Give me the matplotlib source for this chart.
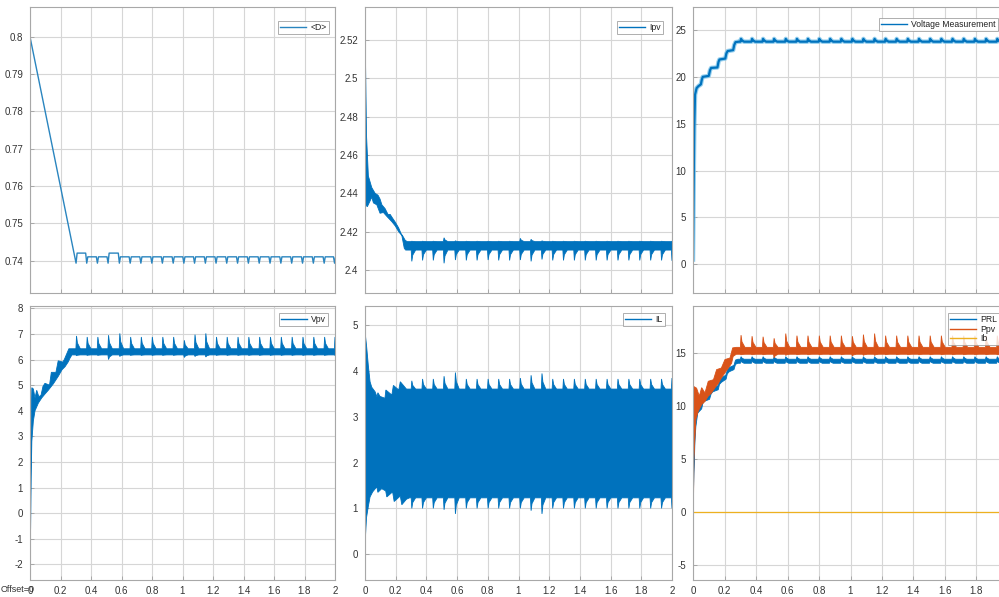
import numpy as np
import matplotlib
matplotlib.use("Agg")
import matplotlib.pyplot as plt
from matplotlib.ticker import FuncFormatter

plt.rcParams['font.family'] = ['Liberation Sans', 'DejaVu Sans']

# ---------------- data ----------------
# MPPT update instants (s) where spikes / dips appear
EVENTS = [0.302, 0.372, 0.442, 0.512, 0.586, 0.657, 0.727, 0.799, 0.868, 0.939,
          1.009, 1.079, 1.150, 1.220, 1.290, 1.361, 1.432, 1.503, 1.574, 1.645,
          1.716, 1.787, 1.858, 1.929, 1.997]

# <D> duty cycle
D_ramp_t = [0.0, 0.302]
D_ramp_v = [0.8, 0.7393]
D_dip = 0.7393
D_levels = [0.742, 0.741, 0.741, 0.742, 0.741, 0.741, 0.741, 0.741, 0.741, 0.741,
            0.741, 0.741, 0.741, 0.741, 0.741, 0.741, 0.741, 0.741, 0.741, 0.741,
            0.741, 0.741, 0.741, 0.741, 0.741]

# Ipv envelope
Ipv_up_t = [0.0, 0.004, 0.010, 0.022, 0.044, 0.066, 0.085, 0.098, 0.110, 0.131, 0.150,
            0.164, 0.180, 0.197, 0.219, 0.235, 0.247, 0.262, 0.275]
Ipv_up_v = [2.527, 2.505, 2.470, 2.449, 2.443, 2.440, 2.439, 2.437, 2.434, 2.432, 2.429,
            2.429, 2.427, 2.425, 2.422, 2.419, 2.4176, 2.4155, 2.4148]
Ipv_lo_t = [0.0, 0.005, 0.015, 0.033, 0.044, 0.055, 0.077, 0.098, 0.120, 0.142, 0.175,
            0.197, 0.219, 0.240, 0.256, 0.265]
Ipv_lo_v = [2.510, 2.434, 2.433, 2.436, 2.438, 2.435, 2.434, 2.4296, 2.430, 2.428, 2.4252,
            2.423, 2.420, 2.418, 2.4113, 2.4104]
Ipv_up_base, Ipv_lo_base = 2.4148, 2.4104
Ipv_up_pk = [2.4150, 2.4150, 2.4150, 2.4168, 2.4152, 2.4150, 2.4150, 2.4150, 2.4150, 2.4150,
             2.4165, 2.4160, 2.4152, 2.4150, 2.4150, 2.4150, 2.4150, 2.4150, 2.4150, 2.4150,
             2.4150, 2.4150, 2.4150, 2.4150, 2.4150]
Ipv_lo_pk = [2.4045, 2.4050, 2.4050, 2.4035, 2.4052, 2.4050, 2.4050, 2.4052, 2.4050, 2.4050,
             2.4052, 2.4045, 2.4055, 2.4050, 2.4050, 2.4050, 2.4050, 2.4050, 2.4050, 2.4050,
             2.4050, 2.4050, 2.4050, 2.4050, 2.4048]

# Voltage Measurement (output voltage)
Vm_t = [0.0, 0.004, 0.008, 0.013, 0.023, 0.034, 0.050, 0.056, 0.062, 0.100, 0.108, 0.115,
        0.155, 0.162, 0.168, 0.205, 0.212, 0.220, 0.255, 0.262, 0.270, 0.290]
Vm_v = [0.5, 8.0, 14.5, 18.1, 18.8, 19.0, 19.2, 19.7, 20.0, 20.1, 20.7, 20.95,
        21.0, 21.6, 21.85, 21.95, 22.5, 22.75, 22.85, 23.4, 23.7, 23.75]
Vm_base = 23.75
Vm_pk = [24.05] * 25

# Vpv envelope
Vpv_up_t = [0.0, 0.004, 0.008, 0.012, 0.022, 0.033, 0.044, 0.058, 0.072, 0.085, 0.098,
            0.128, 0.140, 0.170, 0.185, 0.215, 0.225, 0.255, 0.275]
Vpv_up_v = [-1.4, 1.5, 3.8, 4.9, 4.85, 4.5, 4.8, 4.55, 4.6, 4.95, 5.07,
            5.0, 5.5, 5.5, 5.95, 5.9, 6.0, 6.42, 6.42]
Vpv_lo_t = [0.0, 0.004, 0.008, 0.012, 0.022, 0.033, 0.055, 0.077, 0.098, 0.120, 0.153,
            0.186, 0.210, 0.230, 0.250, 0.262, 0.275]
Vpv_lo_v = [-1.4, -0.6, 1.4, 2.8, 3.6, 4.0, 4.3, 4.5, 4.65, 4.8, 5.05,
            5.35, 5.6, 5.72, 5.9, 6.05, 6.18]
Vpv_up_base, Vpv_lo_base = 6.42, 6.18
Vpv_up_pk = [6.92, 6.88, 6.88, 6.95, 7.02, 6.88, 6.88, 6.88, 6.88, 6.88,
             6.75, 6.97, 7.02, 6.88, 6.88, 6.88, 6.88, 6.88, 6.88, 6.88,
             6.88, 6.88, 6.88, 6.88, 6.88]
Vpv_lo_pk = [6.15, 6.16, 6.16, 6.00, 6.12, 6.16, 6.16, 6.16, 6.16, 6.16,
             6.08, 6.12, 6.10, 6.16, 6.16, 6.16, 6.16, 6.16, 6.16, 6.16,
             6.16, 6.16, 6.16, 6.16, 6.16]

# IL envelope
IL_up_t = [0.0, 0.010, 0.022, 0.033, 0.044, 0.066, 0.078, 0.084, 0.098, 0.130, 0.136,
           0.175, 0.185, 0.220, 0.230, 0.270, 0.290]
IL_up_v = [4.85, 4.55, 4.1, 3.76, 3.64, 3.54, 3.43, 3.52, 3.44, 3.40, 3.58,
           3.47, 3.68, 3.58, 3.76, 3.60, 3.60]
IL_lo_t = [0.0, 0.004, 0.010, 0.022, 0.033, 0.050, 0.077, 0.084, 0.109, 0.135, 0.142,
           0.180, 0.190, 0.230, 0.240, 0.270, 0.290]
IL_lo_v = [0.0, 0.45, 0.8, 1.05, 1.25, 1.36, 1.47, 1.35, 1.43, 1.38, 1.25,
           1.36, 1.15, 1.27, 1.08, 1.20, 1.23]
IL_up_base, IL_lo_base = 3.60, 1.23
IL_up_pk = [3.78, 3.82, 3.82, 3.88, 3.96, 3.82, 3.82, 3.82, 3.82, 3.82,
            3.84, 3.90, 3.94, 3.82, 3.82, 3.82, 3.82, 3.82, 3.82, 3.82,
            3.82, 3.82, 3.82, 3.82, 3.84]
IL_lo_pk = [1.00, 1.00, 1.00, 0.97, 0.88, 1.00, 1.00, 1.00, 1.00, 1.00,
            1.00, 0.95, 0.88, 1.00, 1.00, 1.00, 1.00, 1.00, 1.00, 1.00,
            1.00, 1.00, 1.00, 1.00, 1.00]

# PRL envelope
PRL_up_t = [0.0, 0.004, 0.010, 0.015, 0.030, 0.055, 0.062, 0.070, 0.105, 0.115, 0.125,
            0.160, 0.168, 0.180, 0.210, 0.218, 0.230, 0.260, 0.270, 0.285]
PRL_up_v = [0.0, 4.0, 7.5, 8.6, 9.7, 10.1, 10.6, 10.8, 11.0, 11.5, 11.7,
            11.9, 12.4, 12.6, 12.9, 13.4, 13.6, 13.8, 14.3, 14.38]
PRL_lo_t = [0.0, 0.005, 0.012, 0.018, 0.030, 0.055, 0.062, 0.070, 0.105, 0.115, 0.125,
            0.160, 0.168, 0.180, 0.210, 0.218, 0.230, 0.260, 0.270, 0.285]
PRL_lo_v = [0.0, 3.0, 6.5, 8.0, 9.3, 9.7, 10.2, 10.4, 10.6, 11.1, 11.3,
            11.5, 12.0, 12.2, 12.5, 13.0, 13.2, 13.4, 13.9, 14.0]
PRL_up_base, PRL_lo_base = 14.38, 14.0
PRL_up_pk = [14.62] * 25
PRL_lo_pk = [14.22] * 25

# Ppv envelope
Ppv_up_t = [0.0, 0.003, 0.006, 0.023, 0.040, 0.055, 0.076, 0.097, 0.130, 0.150, 0.180,
            0.203, 0.235, 0.252, 0.275]
Ppv_up_v = [-3.5, 5.0, 11.8, 11.65, 10.9, 11.7, 11.2, 12.3, 12.45, 13.4, 13.55,
            14.35, 14.5, 15.45, 15.5]
Ppv_lo_t = [0.0, 0.006, 0.018, 0.034, 0.055, 0.076, 0.097, 0.118, 0.140, 0.161, 0.180,
            0.203, 0.225, 0.245, 0.255, 0.275]
Ppv_lo_v = [-3.5, 5.0, 8.7, 9.5, 10.1, 10.4, 10.9, 11.2, 11.7, 12.1, 12.6,
            13.1, 13.55, 14.0, 14.65, 14.85]
Ppv_up_base, Ppv_lo_base = 15.5, 14.85
Ppv_up_pk = [16.65, 16.55, 16.5, 16.35, 16.8, 16.6, 16.6, 16.6, 16.6, 16.6,
             16.55, 16.7, 16.8, 16.6, 16.6, 16.6, 16.6, 16.6, 16.6, 16.6,
             16.6, 16.6, 16.6, 16.6, 16.6]
Ppv_lo_pk = [14.8, 14.8, 14.8, 14.5, 14.75, 14.8, 14.8, 14.8, 14.8, 14.8,
             14.7, 14.75, 14.75, 14.8, 14.8, 14.8, 14.8, 14.8, 14.8, 14.8,
             14.8, 14.8, 14.8, 14.8, 14.8]

Ib_t = [0.0, 2.0]
Ib_v = [0.0, 0.0]

XTICKS = [0, 0.2, 0.4, 0.6, 0.8, 1, 1.2, 1.4, 1.6, 1.8, 2]

BLUE = '#0072BD'
ORANGE = '#D95319'
YELLOW = '#EDB120'

# ---------------- helpers ----------------
def with_events(tr_t, tr_v, base, peaks, rise=0.003, decay=0.028):
    t = list(tr_t)
    v = list(tr_v)
    for te, pk in zip(EVENTS, peaks):
        t += [te - 0.001, te + rise, te + rise + 0.006, te + decay]
        v += [base, pk, base + 0.45 * (pk - base), base]
    t.append(2.1)
    v.append(base)
    return np.array(t), np.array(v)


def band(ax, ut, uv, lt, lv, color):
    xs = np.r_[ut, lt[::-1]]
    ys = np.r_[uv, lv[::-1]]
    ax.fill(xs, ys, color=color, lw=0.6, ec=color)


W, H = 999.0, 597.0
fig = plt.figure(figsize=(W / 100, H / 100), dpi=100)


def add_ax(l, r, t, b):
    return fig.add_axes([l / W, 1 - b / H, (r - l) / W, (b - t) / H])


fmt = FuncFormatter(lambda x, p: '%g' % round(x, 4))


def style(ax, ylim, yticks, bottom, hide_last=False):
    ax.set_xlim(0, 2)
    ax.set_ylim(*ylim)
    ax.set_xticks(XTICKS)
    ax.set_yticks(yticks)
    ax.yaxis.set_major_formatter(fmt)
    if not bottom:
        ax.set_xticklabels([])
    else:
        labs = ['%g' % x for x in XTICKS]
        if hide_last:
            labs[-1] = ''
        ax.set_xticklabels(labs)
    ax.grid(True, color='#d6d6d6', lw=0.8)
    ax.set_axisbelow(True)
    for s in ax.spines.values():
        s.set_color('#a8a8a8')
        s.set_linewidth(0.8)
    ax.tick_params(direction='in', length=3, width=0.6, color='#a0a0a0',
                   labelsize=7, labelcolor='#333333', pad=5)
    ax.tick_params(axis='x', pad=4)


def legend(ax, handles, labels, xr, yt):
    lg = ax.legend(handles, labels, loc='upper right',
                   bbox_to_anchor=(xr / W, 1 - yt / H), bbox_transform=fig.transFigure,
                   fontsize=6.2, frameon=True, fancybox=False, borderpad=0.25,
                   handlelength=3.0, handletextpad=0.5, labelspacing=0.05,
                   borderaxespad=0.0, markerfirst=True)
    lg.get_frame().set_edgecolor('#9a9a9a')
    lg.get_frame().set_linewidth(0.7)
    for txt in lg.get_texts():
        txt.set_color('#222222')
    return lg


# ---------------- top-left: <D> ----------------
ax1 = add_ax(30, 335, 7, 293)
dt = list(D_ramp_t)
dv = list(D_ramp_v)
for i, te in enumerate(EVENTS):
    if i > 0:
        dt += [te - 0.007, te]
        dv += [D_levels[i - 1], D_dip]
    dt.append(te + 0.007)
    dv.append(D_levels[i])
dt.append(2.1)
dv.append(D_levels[-1])
l1, = ax1.plot(dt, dv, color='#2a85bf', lw=1.0)
style(ax1, (0.7313, 0.808), [0.74, 0.75, 0.76, 0.77, 0.78, 0.79, 0.8], False)
legend(ax1, [l1], ['<D>'], 329, 21)

# ---------------- top-middle: Ipv ----------------
ax2 = add_ax(365, 672, 7, 293)
ut, uv = with_events(Ipv_up_t, Ipv_up_v, Ipv_up_base, Ipv_up_pk)
lt, lv = with_events(Ipv_lo_t, Ipv_lo_v, Ipv_lo_base, Ipv_lo_pk)
band(ax2, ut, uv, lt, lv, BLUE)
style(ax2, (2.388, 2.5372), [2.4, 2.42, 2.44, 2.46, 2.48, 2.5, 2.52], False)
h2 = plt.Line2D([], [], color=BLUE, lw=1.0)
legend(ax2, [h2], ['Ipv'], 663, 21)

# ---------------- top-right: Voltage Measurement ----------------
ax3 = add_ax(693, 1008, 7, 293)
vt, vv = with_events(Vm_t, Vm_v, Vm_base, Vm_pk, decay=0.022)
ax3.plot(vt, vv, color='#7cc4ea', lw=3.2, alpha=0.8, solid_joinstyle='round')
ax3.plot(vt, vv, color=BLUE, lw=1.6, solid_joinstyle='round')
style(ax3, (-3.06, 27.45), [0, 5, 10, 15, 20, 25], False)
h3 = plt.Line2D([], [], color=BLUE, lw=1.0)
legend(ax3, [h3], ['Voltage Measurement'], 998, 18)

# ---------------- bottom-left: Vpv ----------------
ax4 = add_ax(30, 335, 306, 580)
ut, uv = with_events(Vpv_up_t, Vpv_up_v, Vpv_up_base, Vpv_up_pk)
lt, lv = with_events(Vpv_lo_t, Vpv_lo_v, Vpv_lo_base, Vpv_lo_pk)
band(ax4, ut, uv, lt, lv, BLUE)
style(ax4, (-2.61, 8.09), [-2, -1, 0, 1, 2, 3, 4, 5, 6, 7, 8], True)
h4 = plt.Line2D([], [], color=BLUE, lw=1.0)
legend(ax4, [h4], ['Vpv'], 328, 313)
fig.text(1 / W, 1 - 590 / H, 'Offset=0', fontsize=6.5, color='#333333',
         ha='left', va='center')

# ---------------- bottom-middle: IL ----------------
ax5 = add_ax(365, 672, 306, 580)
ut, uv = with_events(IL_up_t, IL_up_v, IL_up_base, IL_up_pk)
lt, lv = with_events(IL_lo_t, IL_lo_v, IL_lo_base, IL_lo_pk)
band(ax5, ut, uv, lt, lv, BLUE)
style(ax5, (-0.56, 5.41), [0, 1, 2, 3, 4, 5], True)
h5 = plt.Line2D([], [], color=BLUE, lw=1.0)
legend(ax5, [h5], ['IL'], 665, 313)

# ---------------- bottom-right: PRL, Ppv, Ib ----------------
ax6 = add_ax(693, 1008, 306, 580)
ut, uv = with_events(PRL_up_t, PRL_up_v, PRL_up_base, PRL_up_pk, decay=0.022)
lt, lv = with_events(PRL_lo_t, PRL_lo_v, PRL_lo_base, PRL_lo_pk, decay=0.022)
band(ax6, ut, uv, lt, lv, BLUE)
ut, uv = with_events(Ppv_up_t, Ppv_up_v, Ppv_up_base, Ppv_up_pk)
lt, lv = with_events(Ppv_lo_t, Ppv_lo_v, Ppv_lo_base, Ppv_lo_pk)
band(ax6, ut, uv, lt, lv, ORANGE)
ax6.plot(Ib_t, Ib_v, color=YELLOW, lw=0.9)
style(ax6, (-6.44, 19.4), [-5, 0, 5, 10, 15], True, hide_last=True)
hs = [plt.Line2D([], [], color=c, lw=1.0) for c in (BLUE, ORANGE, YELLOW)]
legend(ax6, hs, ['PRL', 'Ppv', 'Ib'], 999, 313)

fig.savefig('out.png', dpi=100, facecolor='white')
